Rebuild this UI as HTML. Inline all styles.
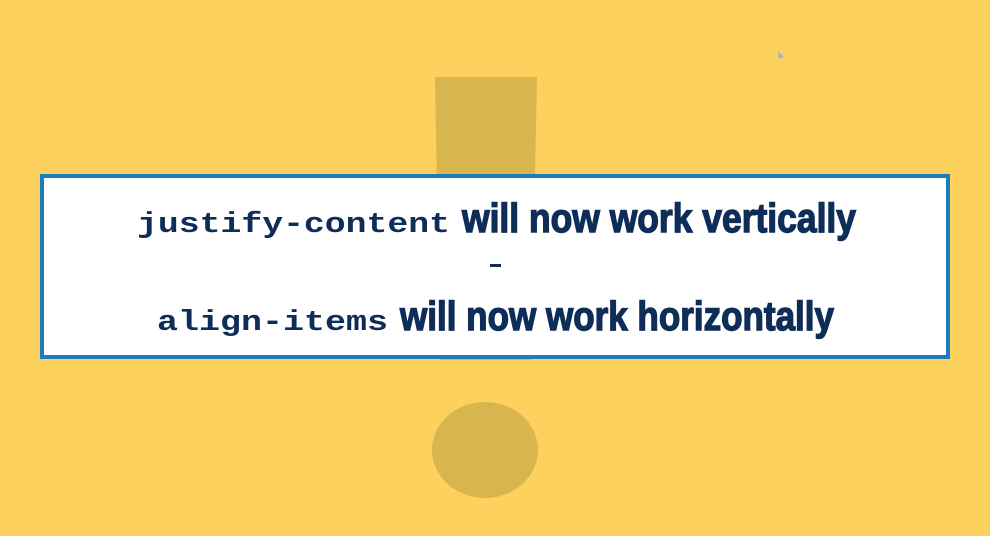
<!DOCTYPE html>
<html><head><meta charset="utf-8"><style>
html,body{margin:0;padding:0;width:990px;height:536px;overflow:hidden;background:#FCD15E}
</style></head><body>
<svg width="990" height="536" viewBox="0 0 990 536" xmlns="http://www.w3.org/2000/svg" style="display:block">
<rect width="990" height="536" fill="#FCD15E"/>
<polygon points="435,77 537,77 531,360 440,360" fill="#D8B54F"/>
<ellipse cx="485" cy="450" rx="53" ry="48" fill="#D8B54F"/>
<path d="M778,51 L784,57 L779,59 Z" fill="#9DB4D8"/>
<rect x="42" y="176" width="906" height="181" fill="#FFFFFF" stroke="#1C7DBE" stroke-width="4"/>
<g fill="#0E2D58">
<text x="137" y="232" font-weight="bold" font-family="Liberation Mono, monospace" font-size="29" textLength="313" lengthAdjust="spacingAndGlyphs">justify-content</text>
<text x="462" y="232" font-weight="bold" stroke="#0E2D58" stroke-width="1.4" font-family="Liberation Sans, sans-serif" font-size="41" textLength="394" lengthAdjust="spacingAndGlyphs">will now work vertically</text>
<rect x="490" y="264" width="11" height="3"/>
<text x="157" y="330" font-weight="bold" font-family="Liberation Mono, monospace" font-size="29" textLength="231" lengthAdjust="spacingAndGlyphs">align-items</text>
<text x="400" y="330" font-weight="bold" stroke="#0E2D58" stroke-width="1.4" font-family="Liberation Sans, sans-serif" font-size="41" textLength="434" lengthAdjust="spacingAndGlyphs">will now work horizontally</text>
</g>
</svg>
</body></html>
